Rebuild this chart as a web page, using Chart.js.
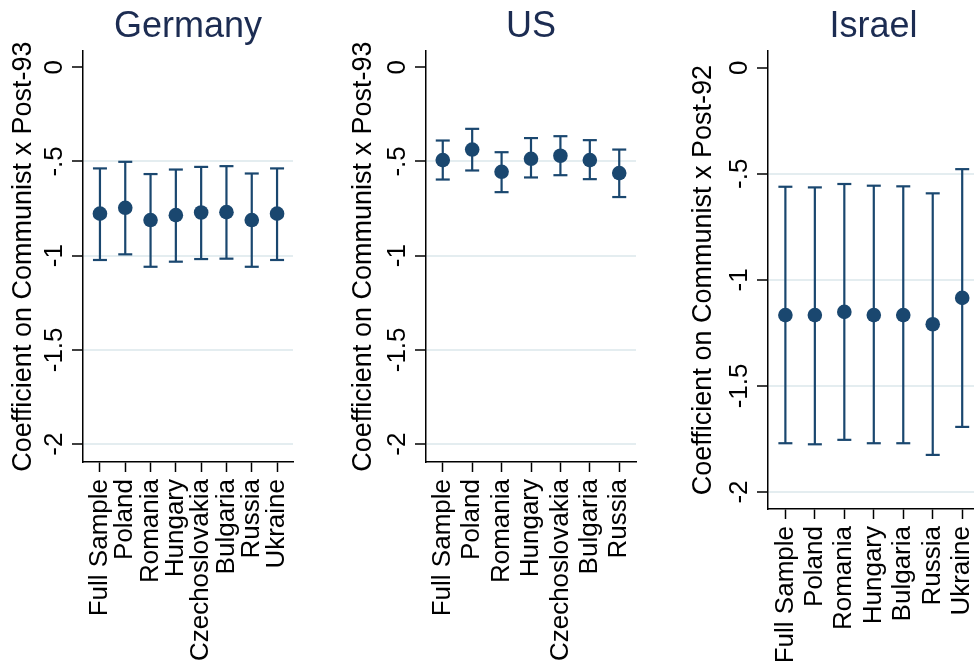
<!DOCTYPE html>
<html>
<head>
<meta charset="utf-8">
<script src="https://cdn.jsdelivr.net/npm/chart.js@4/dist/chart.umd.min.js"></script>
<style>
  html, body { margin: 0; padding: 0; background: #fff; overflow: hidden; width: 974px; height: 669px; }
  canvas { position: absolute; top: 0; }
</style>
</head>
<body>
<canvas id="germany" width="310" height="669" style="left:0px"></canvas>
<canvas id="us" width="310" height="669" style="left:340px"></canvas>
<canvas id="israel" width="310" height="669" style="left:680px"></canvas>
<script>
// tick values shared by all three panels
const yTicks = [-2, -1.5, -1, -0.5, 0];

const gerCats = ["Full Sample", "Poland", "Romania", "Hungary", "Czechoslovakia", "Bulgaria", "Russia", "Ukraine"];
const gerCoef = [-0.777, -0.746, -0.811, -0.785, -0.771, -0.769, -0.811, -0.777];
const gerHigh = [-0.537, -0.502, -0.567, -0.543, -0.529, -0.525, -0.564, -0.537];
const gerLow = [-1.023, -0.993, -1.059, -1.032, -1.018, -1.016, -1.059, -1.023];

const usCats = ["Full Sample", "Poland", "Romania", "Hungary", "Czechoslovakia", "Bulgaria", "Russia"];
const usCoef = [-0.493, -0.437, -0.555, -0.486, -0.470, -0.493, -0.562];
const usHigh = [-0.389, -0.327, -0.451, -0.376, -0.366, -0.387, -0.437];
const usLow = [-0.596, -0.548, -0.663, -0.585, -0.573, -0.594, -0.689];

const isrCats = ["Full Sample", "Poland", "Romania", "Hungary", "Bulgaria", "Russia", "Ukraine"];
const isrCoef = [-1.166, -1.166, -1.151, -1.166, -1.166, -1.209, -1.085];
const isrHigh = [-0.561, -0.564, -0.548, -0.556, -0.559, -0.592, -0.478];
const isrLow = [-1.770, -1.775, -1.754, -1.770, -1.770, -1.825, -1.693];

const navy = "#1a476f";
const font = "'Liberation Sans', Arial, sans-serif";

function fmtTick(v) {
	// stata style: -.5 instead of -0.5
	return String(v).replace("0.", ".");
}

function makePanel(id, title, yTitle, cats, coef, low, high, o) {
	const pts = coef.map((v, i) => ({ x: i, y: v }));
	const caps = low.map((v, i) => ({ x: i, y: v })).concat(high.map((v, i) => ({ x: i, y: v })));
	const bars = [];
	low.forEach((v, i) => {
		bars.push({ x: i, y: v }, { x: i, y: high[i] }, { x: i, y: null });
	});

	return new Chart(document.getElementById(id).getContext("2d"), {
		type: "scatter",
		data: {
			datasets: [
				{ data: pts, pointRadius: 7.3, backgroundColor: navy, borderWidth: 0, clip: false },
				{ data: caps, pointStyle: "line", pointRadius: 7, borderColor: navy, borderWidth: 2.2, clip: false },
				{ data: bars, showLine: true, spanGaps: false, pointRadius: 0, borderColor: navy, borderWidth: 2.2, clip: false },
			],
		},
		options: {
			responsive: false,
			animation: false,
			layout: { padding: { left: 0, right: o.padRight, top: 0, bottom: 0 } },
			plugins: {
				legend: { display: false },
				tooltip: { enabled: false },
				title: {
					display: true,
					fullSize: false,
					text: title,
					color: "#1c2c52",
					font: { family: font, size: 36, weight: "normal", lineHeight: 1.2 },
					padding: { top: 5, bottom: 3 },
				},
			},
			scales: {
				x: {
					type: "linear",
					min: o.xMin,
					max: o.xMax,
					afterBuildTicks: (s) => { s.ticks = cats.map((c, i) => ({ value: i })); },
					afterFit: (s) => {
						s.height = o.xHeight;
						s.paddingLeft = 0;
						s.paddingRight = 0;
					},
					grid: { drawOnChartArea: false, drawTicks: true, tickLength: 10, tickColor: "#000", tickWidth: 1.5 },
					border: { display: true, color: "#000", width: 1.5 },
					ticks: {
						autoSkip: false,
						minRotation: 90,
						maxRotation: 90,
						padding: 7,
						color: "#000",
						font: { family: font, size: 26 },
						callback: (v) => cats[v],
					},
				},
				y: {
					min: o.yMin,
					max: o.yMax,
					afterBuildTicks: (s) => { s.ticks = yTicks.map((v) => ({ value: v })); },
					afterFit: (s) => {
						s.width = o.yWidth;
						s.paddingTop = 0;
						s.paddingBottom = 0;
					},
					grid: {
						color: (c) => (c.tick && c.tick.value === 0 ? "rgba(0,0,0,0)" : "#e4edf0"),
						lineWidth: 2,
						drawTicks: true,
						tickLength: 11,
						tickColor: "#000",
						tickWidth: 1.5,
					},
					border: { display: true, color: "#000", width: 1.5 },
					title: {
						display: true,
						text: yTitle,
						color: "#000",
						font: { family: font, size: 27, lineHeight: 1.2 },
						padding: { top: 7, bottom: 0 },
					},
					ticks: {
						crossAlign: "center",
						minRotation: 90,
						maxRotation: 90,
						padding: -5,
						color: "#000",
						font: { family: font, size: 26 },
						callback: (v) => fmtTick(v),
					},
				},
			},
		},
	});
}

makePanel("germany", "Germany", "Coefficient on Communist x Post-93", gerCats, gerCoef, gerLow, gerHigh,
	{ yMin: -2.095, yMax: 0.085, xMin: -0.67, xMax: 7.63, yWidth: 83, xHeight: 207, padRight: 17 });
makePanel("us", "US", "Coefficient on Communist x Post-93", usCats, usCoef, usLow, usHigh,
	{ yMin: -2.095, yMax: 0.085, xMin: -0.57, xMax: 6.57, yWidth: 86, xHeight: 207, padRight: 14 });
makePanel("israel", "Israel", "Coefficient on Communist x Post-92", isrCats, isrCoef, isrLow, isrHigh,
	{ yMin: -2.08, yMax: 0.078, xMin: -0.59, xMax: 6.57, yWidth: 88, xHeight: 160, padRight: 11 });
</script>
</body>
</html>
